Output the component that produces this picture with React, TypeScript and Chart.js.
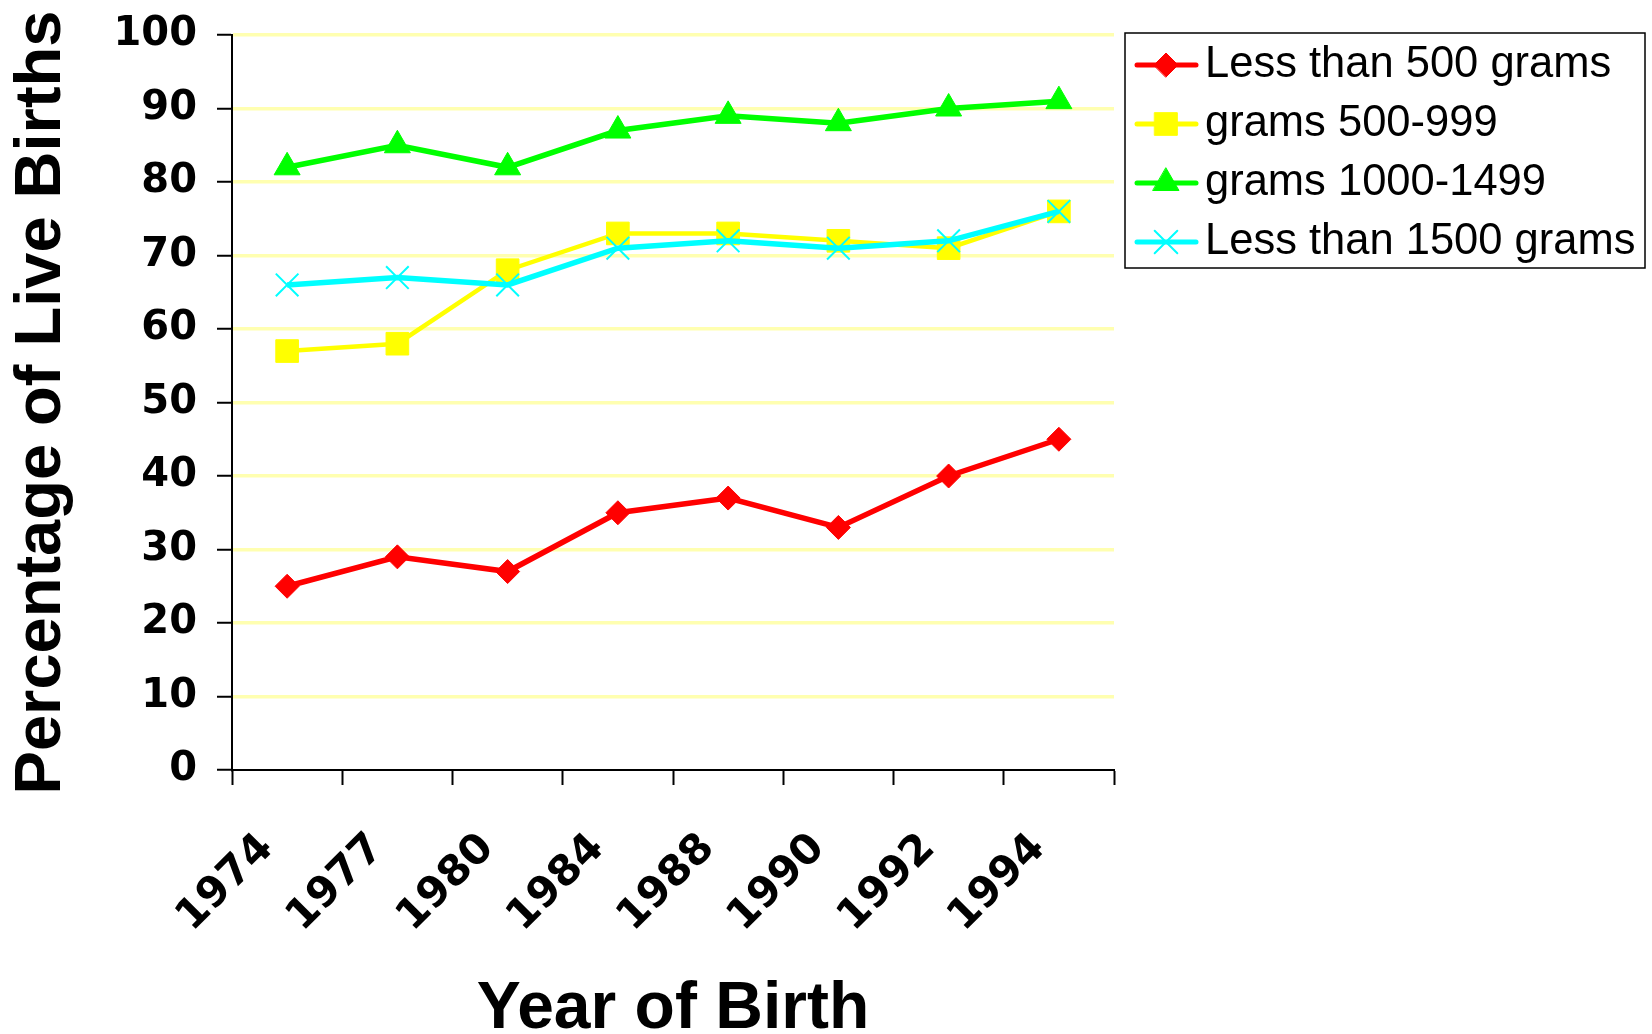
import React, { useEffect, useRef } from 'react';
import { Chart, registerables } from 'chart.js';

Chart.register(...registerables);

// ---- data ----
const years = ['1974', '1977', '1980', '1984', '1988', '1990', '1992', '1994'];
const lessThan500 = [25, 29, 27, 35, 37, 33, 40, 45];
const grams500to999 = [57, 58, 68, 73, 73, 72, 71, 76];
const grams1000to1499 = [82, 85, 82, 87, 89, 88, 90, 91];
const lessThan1500 = [66, 67, 66, 71, 72, 71, 72, 76];
const seriesNames = ['Less than 500 grams', 'grams 500-999', 'grams 1000-1499', 'Less than 1500 grams'];
const yMin = 0;
const yMax = 100;
const yStep = 10;

const RED = '#FF0000';
const YELLOW = '#FFFF00';
const GREEN = '#00FF00';
const CYAN = '#00FFFF';
const GRID = '#FFFFB0';

function drawMarker(ctx: CanvasRenderingContext2D, style: string, x: number, y: number, r: number, color: string, bw: number) {
  ctx.save();
  ctx.fillStyle = color;
  ctx.strokeStyle = color;
  ctx.lineWidth = bw;
  ctx.beginPath();
  if (style === 'rectRot') {
    ctx.moveTo(x - r, y);
    ctx.lineTo(x, y - r);
    ctx.lineTo(x + r, y);
    ctx.lineTo(x, y + r);
    ctx.closePath();
    ctx.fill();
    ctx.stroke();
  } else if (style === 'rect') {
    const s = r * Math.SQRT1_2;
    ctx.rect(x - s, y - s, 2 * s, 2 * s);
    ctx.fill();
    ctx.stroke();
  } else if (style === 'triangle') {
    const w = r * Math.sin(Math.PI * 2 / 3);
    ctx.moveTo(x, y - r);
    ctx.lineTo(x + w, y + r / 2);
    ctx.lineTo(x - w, y + r / 2);
    ctx.closePath();
    ctx.fill();
    ctx.stroke();
  } else if (style === 'crossRot') {
    const s = r * Math.SQRT1_2;
    ctx.moveTo(x - s, y - s);
    ctx.lineTo(x + s, y + s);
    ctx.moveTo(x + s, y - s);
    ctx.lineTo(x - s, y + s);
    ctx.stroke();
  }
  ctx.restore();
}

const boxLegend = {
  id: 'boxLegend',
  afterDraw(chart: any) {
    const ctx: CanvasRenderingContext2D = chart.ctx;
    const area = chart.chartArea;
    const bx = area.right + 11;
    const by = 33;
    const bw = 520;
    const bh = 235;
    const rowGap = 59;
    ctx.save();
    ctx.strokeStyle = '#000';
    ctx.lineWidth = 1.5;
    ctx.strokeRect(bx, by, bw, bh);
    chart.data.datasets.forEach((ds: any, i: number) => {
      const y = by + 32 + i * rowGap;
      ctx.strokeStyle = ds.borderColor;
      ctx.lineWidth = 5;
      ctx.lineCap = 'round';
      ctx.beginPath();
      ctx.moveTo(bx + 12, y);
      ctx.lineTo(bx + 71, y);
      ctx.stroke();
      drawMarker(ctx, ds.pointStyle, bx + 41, y, ds.pointRadius, ds.borderColor, ds.pointBorderWidth);
      ctx.fillStyle = '#000';
      ctx.font = '43.5px "Liberation Sans", Arial, sans-serif';
      ctx.textBaseline = 'middle';
      ctx.textAlign = 'left';
      ctx.fillText(ds.label, bx + 80, y);
    });
    ctx.restore();
  },
};

export default function App() {
  const ref = useRef<HTMLCanvasElement>(null);

  useEffect(() => {
    const canvas = ref.current!;
    const chart = new Chart(canvas, {
      type: 'line',
      data: {
        labels: years,
        datasets: [
          {
            label: seriesNames[0],
            data: lessThan500,
            borderColor: RED,
            backgroundColor: RED,
            borderWidth: 5.5,
            pointStyle: 'rectRot',
            pointRadius: 12,
            pointBackgroundColor: RED,
            pointBorderColor: RED,
            pointBorderWidth: 1,
            tension: 0,
            order: 1,
          },
          {
            label: seriesNames[1],
            data: grams500to999,
            borderColor: YELLOW,
            backgroundColor: YELLOW,
            borderWidth: 4.5,
            pointStyle: 'rect',
            pointRadius: 16,
            pointBackgroundColor: YELLOW,
            pointBorderColor: YELLOW,
            pointBorderWidth: 1,
            tension: 0,
            order: 2,
          },
          {
            label: seriesNames[2],
            data: grams1000to1499,
            borderColor: GREEN,
            backgroundColor: GREEN,
            borderWidth: 5.5,
            pointStyle: 'triangle',
            pointRadius: 15,
            pointBackgroundColor: GREEN,
            pointBorderColor: GREEN,
            pointBorderWidth: 1,
            tension: 0,
            order: 1,
          },
          {
            label: seriesNames[3],
            data: lessThan1500,
            borderColor: CYAN,
            backgroundColor: CYAN,
            borderWidth: 5.5,
            pointStyle: 'crossRot',
            pointRadius: 16,
            pointBackgroundColor: CYAN,
            pointBorderColor: CYAN,
            pointBorderWidth: 2,
            tension: 0,
            order: 0,
          },
        ],
      },
      options: {
        responsive: false,
        devicePixelRatio: 1,
        animation: false,
        layout: { padding: { left: 0, top: 35, right: 538, bottom: 0 } },
        plugins: {
          legend: { display: false },
          tooltip: { enabled: false },
        },
        scales: {
          x: {
            type: 'category',
            offset: true,
            grid: {
              offset: true,
              drawOnChartArea: false,
              drawTicks: true,
              tickLength: 15,
              tickColor: '#000',
              tickWidth: 2,
            },
            border: { display: true, color: '#000', width: 2 },
            ticks: {
              autoSkip: false,
              minRotation: 45,
              maxRotation: 45,
              labelOffset: -20,
              padding: 39,
              color: '#000',
              font: { family: '"DejaVu Sans", Verdana, sans-serif', weight: 'bold', size: 42 },
            },
            title: {
              display: true,
              text: 'Year of Birth',
              color: '#000',
              font: { family: '"Liberation Sans", Arial, sans-serif', weight: 'bold', size: 66, lineHeight: 0.72 },
              padding: { top: 0, bottom: 0 },
            },
            afterFit: (scale: any) => {
              scale.height = 264;
            },
          },
          y: {
            min: yMin,
            max: yMax,
            grid: {
              color: (c: any) => (c.tick && c.tick.value === 0 ? 'rgba(0,0,0,0)' : GRID),
              lineWidth: 3.5,
              drawTicks: true,
              tickLength: 15,
              tickColor: '#000',
              tickWidth: 2,
            },
            border: { display: true, color: '#000', width: 2 },
            ticks: {
              stepSize: yStep,
              padding: 20,
              color: '#000',
              font: { family: '"DejaVu Sans", Verdana, sans-serif', weight: 'bold', size: 40 },
            },
            title: {
              display: true,
              text: 'Percentage of Live Births',
              color: '#000',
              font: { family: '"Liberation Sans", Arial, sans-serif', weight: 'bold', size: 65, lineHeight: 1 },
              padding: { top: 10, bottom: 0 },
            },
            afterFit: (scale: any) => {
              scale.width = 232;
              scale.paddingTop = 0;
              scale.paddingBottom = 0;
            },
          },
        },
      },
      plugins: [boxLegend],
    } as any);
    return () => chart.destroy();
  }, []);

  return (
    <div style={{ position: 'absolute', left: 0, top: 0, width: 1652, height: 1034, background: '#fff' }}>
      <canvas ref={ref} width={1652} height={1034} style={{ display: 'block', width: 1652, height: 1034 }} />
    </div>
  );
}
